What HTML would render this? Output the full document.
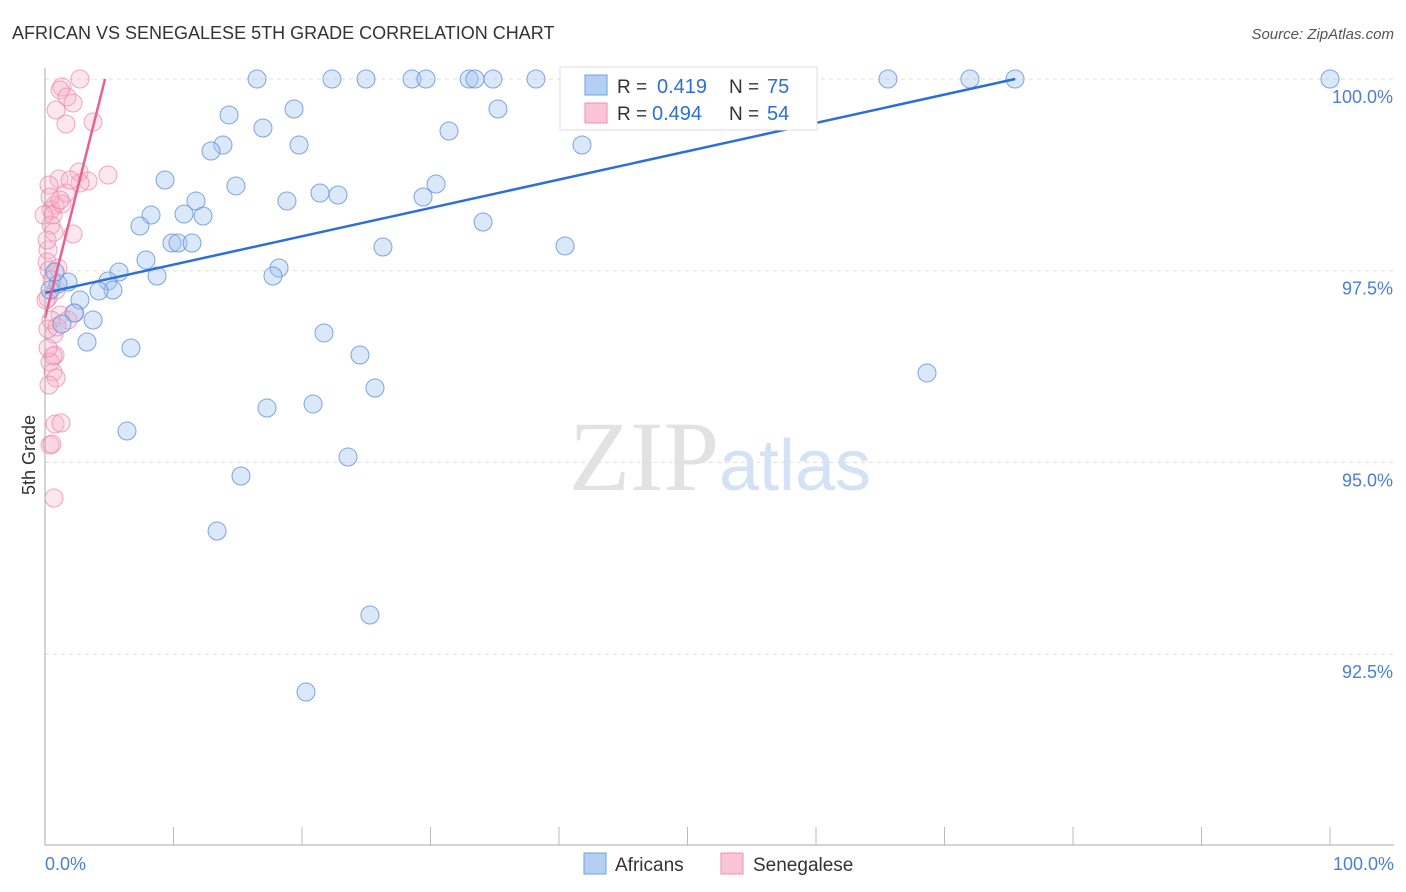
<!DOCTYPE html>
<html><head><meta charset="utf-8"><style>
body{margin:0;background:#fff;font-family:"Liberation Sans",sans-serif;}
#c{position:relative;width:1406px;height:892px;overflow:hidden}
</style></head><body><div id="c">
<svg id="s" width="1406" height="892" xmlns="http://www.w3.org/2000/svg">
<text x="12" y="39" font-size="18" fill="#333">AFRICAN VS SENEGALESE 5TH GRADE CORRELATION CHART</text>
<text x="1394" y="39" font-size="15" fill="#555" text-anchor="end" font-style="italic">Source: ZipAtlas.com</text>
<text x="35" y="455" font-size="18" fill="#333" transform="rotate(-90 35 455)" text-anchor="middle">5th Grade</text>
<text x="720" y="490" font-size="100" fill="#e2e2e2" text-anchor="middle" font-family="Liberation Serif,serif">ZIP<tspan fill="#d3e2f5" font-family="Liberation Sans,sans-serif" font-size="72">atlas</tspan></text>
<g id="grid"></g><g id="pts"></g><g id="lines"></g>
<line x1="45" y1="68" x2="45" y2="845" stroke="#aaa"/>
<line x1="45" y1="845" x2="1394" y2="845" stroke="#aaa"/>
<text x="45" y="870" font-size="18" fill="#4a7fd6">0.0%</text>
<text x="1394" y="870" font-size="18" fill="#4a7fd6" text-anchor="end">100.0%</text>
<g>
<rect x="560" y="67" width="257" height="63" fill="#fff" stroke="#ddd"/>
<rect x="585" y="75" width="22" height="20" fill="#b5cff3" stroke="#6fa0e0"/>
<rect x="585" y="103" width="22" height="20" fill="#f9c4d5" stroke="#ef8fb0"/>
<text x="617" y="93" font-size="19" fill="#333">R =</text><text x="657" y="93" font-size="20" fill="#2d6fd6">0.419</text>
<text x="729" y="93" font-size="19" fill="#333">N =</text><text x="767" y="93" font-size="20" fill="#2d6fd6">75</text>
<text x="617" y="120" font-size="19" fill="#333">R =</text><text x="652" y="120" font-size="20" fill="#2d6fd6">0.494</text>
<text x="729" y="120" font-size="19" fill="#333">N =</text><text x="767" y="120" font-size="20" fill="#2d6fd6">54</text>
</g>
<g>
<rect x="584" y="853" width="22" height="21" fill="#b5cff3" stroke="#6fa0e0"/>
<text x="615" y="871" font-size="19" fill="#333">Africans</text>
<rect x="721" y="853" width="22" height="21" fill="#f9c4d5" stroke="#ef8fb0"/>
<text x="753" y="871" font-size="19" fill="#333">Senegalese</text>
</g>
</svg>
<script>
const yTicks=[100,97.5,95,92.5];
const yTickLabels=["100.0%","97.5%","95.0%","92.5%"];
const xTicks=[0,10,20,30,40,50,60,70,80,90,100];
const bluePx=[[257,79],[332,79],[366,79],[412,79],[426,79],[469,79],[475,79],[493,79],[536,79],[596,79],[718,79],[804,79],[888,79],[970,79],[1015,79],[1330,79],[294,109],[498,109],[229,115],[263,128],[449,131],[223,145],[211,151],[299,145],[582,145],[165,180],[236,186],[436,184],[196,201],[287,201],[320,193],[338,195],[423,197],[151,215],[184,214],[203,216],[140,226],[483,222],[172,243],[178,243],[192,243],[383,247],[565,246],[146,260],[119,272],[157,276],[279,268],[273,276],[108,281],[68,282],[113,290],[99,291],[58,284],[55,272],[50,290],[80,300],[74,313],[93,320],[62,324],[87,342],[131,348],[324,333],[360,355],[927,373],[375,388],[267,408],[313,404],[127,431],[348,457],[241,476],[217,531],[370,615],[306,692]];
const pinkPx=[[62,87],[60,90],[67,97],[73,103],[56,110],[66,124],[93,122],[108,175],[79,172],[88,181],[59,179],[49,185],[66,193],[80,183],[55,205],[51,210],[53,215],[62,204],[51,225],[73,234],[54,232],[48,250],[47,262],[49,270],[58,268],[52,280],[56,290],[48,298],[60,315],[75,313],[51,320],[54,334],[48,329],[55,355],[50,362],[53,372],[56,378],[49,385],[55,424],[61,423],[50,445],[52,444],[54,498],[68,320],[57,327],[46,300],[80,79],[47,240],[44,215],[70,180],[50,197],[60,200],[53,356],[48,348]];
const africansX=bluePx.map(p=>+((p[0]-45)/12.85).toFixed(2));
const africansY=bluePx.map(p=>+(100-(p[1]-79)/76.68).toFixed(3));
const senegaleseX=pinkPx.map(p=>+((p[0]-45)/12.85).toFixed(2));
const senegaleseY=pinkPx.map(p=>+(100-(p[1]-79)/76.68).toFixed(3));
const blueTrend=[0,97.21,75.5,100];
const pinkTrend=[0,96.88,4.67,100];
const X=v=>45+v*12.85, Y=v=>79+(100-v)*76.68;
const NS="http://www.w3.org/2000/svg";
function mk(t,a,p){const e=document.createElementNS(NS,t);for(const k in a)e.setAttribute(k,a[k]);p.appendChild(e);return e;}
const grid=document.getElementById('grid');
yTicks.forEach((v,i)=>{
 const l=mk('line',{x1:45,x2:1394,y1:Y(v),y2:Y(v),stroke:'#ddd','stroke-dasharray':'4,4'},grid);
 
 
 const t=mk('text',{x:1393,y:Y(v)+24,'font-size':18,fill:'#4a7fd6','text-anchor':'end'},grid);
 t.textContent=yTickLabels[i];
 
 
});
xTicks.forEach(v=>{
 const l=mk('line',{x1:X(v),x2:X(v),y1:827,y2:845,stroke:'#bbb'},grid);
 
 
});
const pts=document.getElementById('pts');
senegaleseX.forEach((x,i)=>{
 const c=mk('circle',{cx:X(x),cy:Y(senegaleseY[i]),r:9,fill:'rgba(248,175,200,0.3)',stroke:'rgba(236,130,165,0.7)','stroke-width':1},pts);
 
 
});
africansX.forEach((x,i)=>{
 const c=mk('circle',{cx:X(x),cy:Y(africansY[i]),r:9,fill:'rgba(165,198,240,0.4)',stroke:'rgba(95,145,220,0.8)','stroke-width':1},pts);
 
 
});
const lines=document.getElementById('lines');
const bl=mk('line',{x1:X(blueTrend[0]),y1:Y(blueTrend[1]),x2:X(blueTrend[2]),y2:Y(blueTrend[3]),stroke:'#2d6fd6','stroke-width':2.5},lines);


const pl=mk('line',{x1:X(pinkTrend[0]),y1:Y(pinkTrend[1]),x2:X(pinkTrend[2]),y2:Y(pinkTrend[3]),stroke:'#e9608f','stroke-width':2.5},lines);


</script></div></body></html>
